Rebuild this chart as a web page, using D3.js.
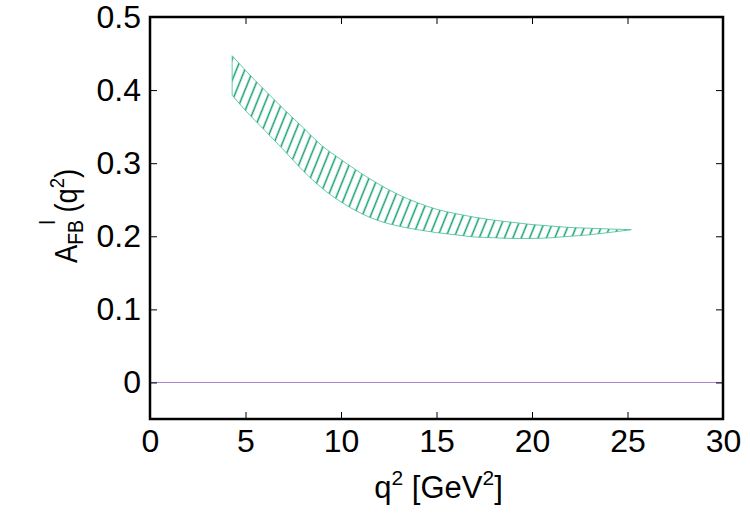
<!DOCTYPE html>
<html>
<head>
<meta charset="utf-8">
<script src="https://cdn.jsdelivr.net/npm/d3@7"></script>
<style>
  html, body { margin: 0; padding: 0; background: #fff; }
  svg { display: block; font-family: "Liberation Sans", Arial, Helvetica, sans-serif; }
</style>
</head>
<body>
<svg id="chart" width="750" height="525"></svg>
<script>
// ---- data ----
const q2 = [4.3, 5, 6, 7, 8, 9, 10, 11, 12, 13, 14, 15, 16, 17, 18, 19, 20, 21, 22, 23, 24, 25.2];
const upper = [0.447, 0.427, 0.400, 0.374, 0.349, 0.324, 0.305, 0.287, 0.271, 0.257, 0.246, 0.237, 0.231, 0.226, 0.222, 0.219, 0.216, 0.214, 0.212, 0.211, 0.210, 0.209];
const lower = [0.393, 0.372, 0.345, 0.318, 0.290, 0.266, 0.247, 0.232, 0.221, 0.214, 0.209, 0.205, 0.202, 0.199, 0.198, 0.197, 0.197, 0.198, 0.200, 0.202, 0.205, 0.209];
const xTicks = [0, 5, 10, 15, 20, 25, 30];
const yTicks = [0, 0.1, 0.2, 0.3, 0.4, 0.5];
const xDomain = [0, 30];
const yDomain = [-0.05, 0.5];

const svg = d3.select("#chart");
const m = { left: 150, right: 723, top: 17, bottom: 419 };
const x = d3.scaleLinear().domain(xDomain).range([m.left, m.right]);
const y = d3.scaleLinear().domain(yDomain).range([m.bottom, m.top]);

// hatch pattern
const defs = svg.append("defs");
const pat = defs.append("pattern")
  .attr("id", "hatch")
  .attr("patternUnits", "userSpaceOnUse")
  .attr("width", 8.4).attr("height", 20)
  .attr("patternTransform", "skewX(-22)");
pat.append("line")
  .attr("x1", 4.2).attr("y1", 0).attr("x2", 4.2).attr("y2", 20)
  .attr("stroke", "#109f6e").attr("stroke-width", 1.6);

const data = q2.map((d, i) => ({ x: d, hi: upper[i], lo: lower[i] }));

// zero line
svg.append("line")
  .attr("x1", x(xDomain[0])).attr("x2", x(xDomain[1]))
  .attr("y1", y(0)).attr("y2", y(0))
  .attr("stroke", "#a880d0").attr("stroke-width", 1);

// band
const area = d3.area()
  .x(d => x(d.x)).y0(d => y(d.lo)).y1(d => y(d.hi))
  .curve(d3.curveMonotoneX);
svg.append("path").datum(data)
  .attr("d", area)
  .attr("fill", "url(#hatch)")
  .attr("stroke", "#3fbf8f").attr("stroke-width", 0.8);

// axes (ticks inside, mirrored)
const tickLen = 7;
const gx = svg.append("g").attr("transform", `translate(0,${m.bottom})`)
  .call(d3.axisBottom(x).tickValues(xTicks).tickSizeInner(-tickLen).tickSizeOuter(0).tickPadding(10).tickFormat(d3.format("d")));
const gxt = svg.append("g").attr("transform", `translate(0,${m.top})`)
  .call(d3.axisTop(x).tickValues(xTicks).tickSizeInner(-tickLen).tickSizeOuter(0).tickFormat(""));
const gy = svg.append("g").attr("transform", `translate(${m.left},0)`)
  .call(d3.axisLeft(y).tickValues(yTicks).tickSizeInner(-tickLen).tickSizeOuter(0).tickPadding(9).tickFormat(d => d === 0 ? "0" : d3.format(".1f")(d)));
const gyr = svg.append("g").attr("transform", `translate(${m.right},0)`)
  .call(d3.axisRight(y).tickValues(yTicks).tickSizeInner(-tickLen).tickSizeOuter(0).tickFormat(""));

[gx, gxt, gy, gyr].forEach(g => {
  g.select(".domain").remove();
  g.selectAll(".tick line").attr("stroke", "#000").attr("stroke-width", 1);
  g.selectAll(".tick text").attr("fill", "#000").attr("font-size", 32).attr("font-family", "Liberation Sans, Arial, sans-serif");
});
gx.selectAll(".tick text").attr("dy", "0.71em");

// frame
svg.append("rect")
  .attr("x", m.left).attr("y", m.top)
  .attr("width", m.right - m.left).attr("height", m.bottom - m.top)
  .attr("fill", "none").attr("stroke", "#000").attr("stroke-width", 2.5);

// x title
const xt = svg.append("text")
  .attr("x", (m.left + m.right) / 2 + 2).attr("y", 498)
  .attr("text-anchor", "middle").attr("font-size", 31).attr("fill", "#000");
xt.append("tspan").text("q");
xt.append("tspan").attr("font-size", 21).attr("dy", -13).text("2");
xt.append("tspan").attr("dy", 13).text(" [GeV");
xt.append("tspan").attr("font-size", 21).attr("dy", -13).text("2");
xt.append("tspan").attr("dy", 13).text("]");

// y title
const yt = svg.append("text")
  .attr("transform", `translate(77,216) rotate(-90) scale(0.88,1)`)
  .attr("text-anchor", "middle").attr("font-size", 31).attr("fill", "#000");
yt.append("tspan").text("A");
yt.append("tspan").attr("font-size", 22).attr("dy", 6).text("FB");
yt.append("tspan").attr("font-size", 22).attr("dy", -28).attr("dx", -5).text("l");
yt.append("tspan").attr("dy", 22).text(" (q");
yt.append("tspan").attr("font-size", 21).attr("dy", -13).text("2");
yt.append("tspan").attr("dy", 13).text(")");
</script>
</body>
</html>
